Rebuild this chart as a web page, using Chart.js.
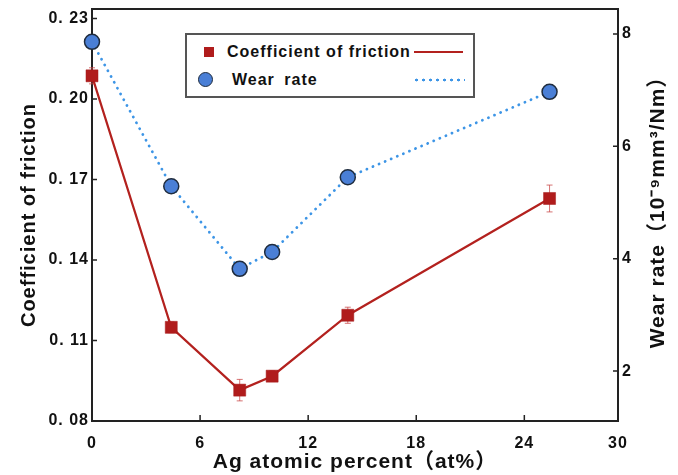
<!DOCTYPE html>
<html>
<head>
<meta charset="utf-8">
<script src="https://cdn.jsdelivr.net/npm/chart.js@4.4.1/dist/chart.umd.min.js"></script>
<style>
  html, body { margin: 0; padding: 0; background: #fff; }
  #wrap { position: relative; width: 678px; height: 475px; }
  #legendBox {
    position: absolute; left: 185px; top: 33px; width: 286px; height: 61px;
    border: 2px solid #555; background: #fff;
    font: bold 16px Arial, "Liberation Sans", sans-serif; letter-spacing: 1px; color: #111;
  }
  .lgRow { position: absolute; left: 0; right: 0; height: 20px; line-height: 20px; }
  .lgMark, .lgLine, .lgText { position: absolute; }
</style>
</head>
<body>
<div id="wrap">
  <canvas id="chart" width="678" height="475"></canvas>
  <div id="legendBox"></div>
</div>
<script>
// Ag content (at%) and measured values
const agPercent = [0, 4.4, 8.2, 10.0, 14.2, 25.4];
const friction = [0.2086, 0.1149, 0.0915, 0.0967, 0.1194, 0.1629];
const frictionErr = [0.003, 0.002, 0.004, 0.002, 0.003, 0.005];
const wearRate = [7.86, 5.29, 3.82, 4.12, 5.45, 6.97];

// axis ticks
const xTickValues = [0, 6, 12, 18, 24, 29.2];
const xTickLabels = ['0', '6', '12', '18', '24', '30'];
const frictionTicks = [0.08, 0.11, 0.14, 0.17, 0.20, 0.23];
const frictionTickLabels = ['0. 08', '0. 11', '0. 14', '0. 17', '0. 20', '0. 23'];
const wearTicks = [2, 4, 6, 8];

const wearTitle = 'Wear rate\uFF0810\u207B\u2079mm\u00B3/Nm\uFF09';
const FONT = 'Arial, "Liberation Sans", "Noto Sans CJK SC", sans-serif';

const toPoints = ys => ys.map((v, i) => ({ x: agPercent[i], y: v }));

// frame, inward ticks, error bars, right title
const framePlugin = {
  id: 'frame',
  beforeDraw(chart) {
    chart.ctx.letterSpacing = '1px';
  },
  beforeDatasetsDraw(chart) {
    const { ctx, scales: { x, y } } = chart;
    ctx.save();
    ctx.strokeStyle = 'rgba(200,70,70,0.75)';
    ctx.lineWidth = 1;
    agPercent.forEach((v, i) => {
      const px = x.getPixelForValue(v);
      const top = y.getPixelForValue(friction[i] + frictionErr[i]);
      const bot = y.getPixelForValue(friction[i] - frictionErr[i]);
      ctx.beginPath();
      ctx.moveTo(px, top); ctx.lineTo(px, bot);
      ctx.moveTo(px - 3, top); ctx.lineTo(px + 3, top);
      ctx.moveTo(px - 3, bot); ctx.lineTo(px + 3, bot);
      ctx.stroke();
    });
    ctx.restore();
  },
  afterDraw(chart) {
    const { ctx, chartArea: a, scales: { x, y, y1 } } = chart;
    ctx.save();
    ctx.strokeStyle = '#222';
    ctx.lineWidth = 2;
    ctx.beginPath();
    ctx.moveTo(a.left - 1, a.top);
    ctx.lineTo(a.right + 1, a.top);
    ctx.stroke();

    ctx.lineWidth = 1.5;
    ctx.beginPath();
    frictionTicks.forEach(v => {
      const py = y.getPixelForValue(v);
      ctx.moveTo(a.left, py); ctx.lineTo(a.left + 5, py);
    });
    wearTicks.forEach(v => {
      const py = y1.getPixelForValue(v);
      ctx.moveTo(a.right, py); ctx.lineTo(a.right - 5, py);
    });
    xTickValues.slice(1, -1).forEach(v => {
      const px = x.getPixelForValue(v);
      ctx.moveTo(px, a.bottom); ctx.lineTo(px, a.bottom - 6);
    });
    ctx.stroke();

    ctx.translate(658, (a.top + a.bottom) / 2 - 8);
    ctx.rotate(-Math.PI / 2);
    ctx.textAlign = 'center';
    ctx.textBaseline = 'middle';
    ctx.font = 'bold 21px ' + FONT;
    ctx.fillStyle = '#111';
    ctx.fillText(wearTitle, 0, 0);
    ctx.restore();
  }
};

const noPad = axis => { axis.paddingTop = 0; axis.paddingBottom = 0; };

const ctx = document.getElementById('chart').getContext('2d');
const chart = new Chart(ctx, {
  type: 'line',
  data: {
    datasets: [
      {
        label: 'Coefficient of friction',
        data: toPoints(friction),
        yAxisID: 'y',
        borderColor: '#b3211e',
        borderWidth: 2.2,
        backgroundColor: '#b01c1c',
        pointStyle: 'rect',
        pointRadius: 8.5,
        pointBackgroundColor: '#b01c1c',
        pointBorderColor: '#a51a1a',
        pointBorderWidth: 0.5,
        tension: 0,
        clip: false
      },
      {
        label: 'Wear rate',
        data: toPoints(wearRate),
        yAxisID: 'y1',
        borderColor: '#3d95e6',
        borderWidth: 2.8,
        borderDash: [0.1, 6.5],
        borderCapStyle: 'round',
        backgroundColor: '#4a7fd6',
        pointStyle: 'circle',
        pointRadius: 7.5,
        pointBackgroundColor: '#4a7fd6',
        pointBorderColor: '#1f2c3e',
        pointBorderWidth: 1.5,
        tension: 0,
        clip: false
      }
    ]
  },
  options: {
    responsive: false,
    animation: false,
    devicePixelRatio: 1,
    layout: { padding: { top: 8 } },
    plugins: {
      legend: { display: false },
      tooltip: { enabled: false }
    },
    scales: {
      x: {
        type: 'linear',
        position: 'bottom',
        min: 0,
        max: 29.2,
        afterBuildTicks: axis => { axis.ticks = xTickValues.map(v => ({ value: v })); },
        afterFit: axis => { axis.height = 54; axis.paddingLeft = 0; axis.paddingRight = 0; },
        grid: { display: false, drawTicks: false },
        border: { display: true, color: '#222', width: 2 },
        ticks: {
          autoSkip: false,
          maxRotation: 0,
          padding: 13,
          color: '#111',
          font: { family: FONT, size: 16, weight: 'bold' },
          callback: (v, i) => xTickLabels[i]
        },
        title: {
          display: true,
          text: 'Ag atomic percent\uFF08at%\uFF09',
          color: '#111',
          font: { family: FONT, size: 21, weight: 'bold' },
          padding: { top: 0, bottom: 0 }
        }
      },
      y: {
        position: 'left',
        min: 0.08,
        max: 0.2335,
        afterBuildTicks: axis => { axis.ticks = frictionTicks.map(v => ({ value: v })); },
        afterFit: axis => { axis.width = 92; noPad(axis); },
        grid: { display: false, drawTicks: false },
        border: { display: true, color: '#222', width: 2 },
        ticks: {
          padding: 3,
          color: '#111',
          font: { family: FONT, size: 16, weight: 'bold' },
          callback: (v, i) => frictionTickLabels[i]
        },
        title: {
          display: true,
          text: 'Coefficient of friction',
          color: '#111',
          font: { family: FONT, size: 20, weight: 'bold' },
          padding: { top: 17, bottom: 0 }
        }
      },
      y1: {
        position: 'right',
        min: 1.112,
        max: 8.444,
        afterBuildTicks: axis => { axis.ticks = wearTicks.map(v => ({ value: v })); },
        afterFit: axis => { axis.width = 60; noPad(axis); },
        grid: { display: false, drawTicks: false, drawOnChartArea: false },
        border: { display: true, color: '#222', width: 2 },
        ticks: {
          padding: 4,
          color: '#111',
          font: { family: FONT, size: 16, weight: 'bold' }
        },
        title: { display: false }
      }
    }
  },
  plugins: [framePlugin]
});

// legend built from the datasets
const legendBox = document.getElementById('legendBox');
const rowTops = [7, 35];
chart.data.datasets.forEach((ds, i) => {
  const row = document.createElement('div');
  row.className = 'lgRow';
  row.style.top = rowTops[i] + 'px';
  const mark = document.createElement('div');
  mark.className = 'lgMark';
  const line = document.createElement('div');
  line.className = 'lgLine';
  const text = document.createElement('div');
  text.className = 'lgText';
  text.textContent = ds.label;
  if (ds.pointStyle === 'rect') {
    Object.assign(mark.style, { left: '17px', top: '5px', width: '10px', height: '10px', background: ds.pointBackgroundColor });
    Object.assign(text.style, { left: '40px', top: '0px' });
    Object.assign(line.style, { left: '227px', top: '9px', width: '49px', height: '2px', background: ds.borderColor });
  } else {
    Object.assign(mark.style, {
      left: '11px', top: '2px', width: '13px', height: '13px', borderRadius: '50%',
      background: ds.pointBackgroundColor, border: '1.5px solid ' + ds.pointBorderColor
    });
    Object.assign(text.style, { left: '45px', top: '0px', wordSpacing: '4px' });
    Object.assign(line.style, {
      left: '226px', top: '8px', width: '52px', height: '4px',
      backgroundImage: 'radial-gradient(circle, ' + ds.borderColor + ' 1.2px, transparent 1.7px)',
      backgroundSize: '7px 4px'
    });
  }
  row.appendChild(mark);
  row.appendChild(text);
  row.appendChild(line);
  legendBox.appendChild(row);
});
</script>
</body>
</html>
